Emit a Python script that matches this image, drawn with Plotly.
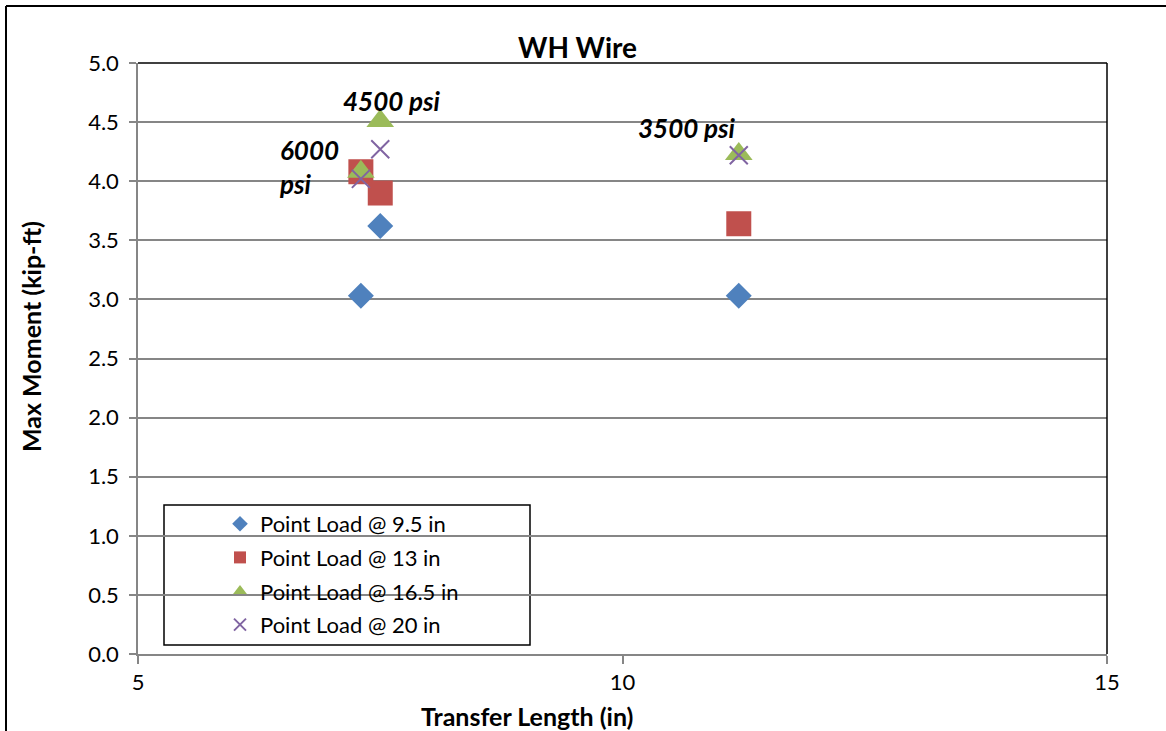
import plotly.graph_objects as go

# Transfer length (in) for the three concrete strengths
transfer_length = [7.3, 7.5, 11.2]

# Max moment (kip-ft) per point-load location
series_names = ["Point Load @ 9.5 in", "Point Load @ 13 in",
                "Point Load @ 16.5 in", "Point Load @ 20 in"]
moment_9_5 = [3.03, 3.62, 3.03]
moment_13 = [4.08, 3.90, 3.64]
moment_16_5 = [4.08, 4.51, 4.23]
moment_20 = [4.02, 4.27, 4.22]

strength_labels = ["6000<br>psi", "4500 psi", "3500 psi"]

y_ticks = [0.0, 0.5, 1.0, 1.5, 2.0, 2.5, 3.0, 3.5, 4.0, 4.5, 5.0]
x_ticks = [5, 10, 15]

FONT = "Lato, 'Open Sans', sans-serif"
GRID = "#868686"

# plot-area geometry in pixels (used to place paper-referenced items)
L, R, T, B = 138, 59, 63, 77
W, H = 1166, 731
PW, PH = W - L - R, H - T - B


def xp(px):
    return (px - L) / PW


def yp(py):
    return (H - B - py) / PH


fig = go.Figure()

styles = [
    dict(symbol="diamond", size=20, color="#4F81BD"),
    dict(symbol="square", size=25, color="#C0504D"),
    dict(symbol="triangle-up", size=24, color="#9BBB59"),
]
for name, ys, st in zip(series_names[:3], [moment_9_5, moment_13, moment_16_5], styles):
    fig.add_trace(go.Scatter(
        x=transfer_length, y=ys, mode="markers", name=name, legendgroup=name,
        marker=dict(symbol=st["symbol"], size=st["size"], color=st["color"],
                    line=dict(width=0)),
    ))

fig.add_trace(go.Scatter(
    x=transfer_length, y=moment_20, mode="markers", name=series_names[3],
    legendgroup=series_names[3],
    marker=dict(symbol="x-thin", size=18, color="#8064A2",
                line=dict(width=2, color="#8064A2")),
))

# concrete strength labels
label_pos = [(277, 167, "left"), (392, 101, "center"), (687, 128, "center")]
for text, (px, py, anchor) in zip(strength_labels, label_pos):
    fig.add_annotation(
        x=xp(px), y=yp(py), xref="paper", yref="paper", text=f"<b><i>{text}</i></b>",
        showarrow=False, xanchor=anchor, yanchor="middle", align="left",
        font=dict(family=FONT, size=26, color="black"),
    )

# title and axis titles
fig.add_annotation(x=xp(577), y=yp(47), xref="paper", yref="paper",
                   text="<b>WH Wire</b>", showarrow=False, xanchor="center", yanchor="middle",
                   font=dict(family=FONT, size=28, color="black"))
fig.add_annotation(x=xp(527), y=yp(716), xref="paper", yref="paper",
                   text="<b>Transfer Length (in)</b>", showarrow=False,
                   xanchor="center", yanchor="middle",
                   font=dict(family=FONT, size=25, color="black"))
fig.add_annotation(x=xp(31), y=yp(337), xref="paper", yref="paper",
                   text="<b>Max Moment (kip-ft)</b>", showarrow=False, textangle=-90,
                   xanchor="center", yanchor="middle",
                   font=dict(family=FONT, size=25, color="black"))

shapes = [
    # outer chart frame
    dict(type="line", xref="paper", yref="paper", x0=xp(6), x1=xp(1175), y0=yp(6), y1=yp(6),
         line=dict(color="black", width=2)),
    dict(type="line", xref="paper", yref="paper", x0=xp(6), x1=xp(6), y0=yp(6), y1=yp(740),
         line=dict(color="black", width=2)),
    # plot area top and right edges
    dict(type="line", xref="paper", yref="paper", x0=0, x1=1, y0=1, y1=1,
         line=dict(color="black", width=1.5)),
    dict(type="line", xref="paper", yref="paper", x0=1, x1=1, y0=0, y1=1,
         line=dict(color="black", width=1.5)),
    # legend box
    dict(type="rect", xref="paper", yref="paper", x0=xp(164), x1=xp(530), y0=yp(645), y1=yp(505),
         line=dict(color="black", width=1.5), fillcolor="white", layer="below"),
]

fig.update_layout(
    width=W, height=H,
    margin=dict(l=L, r=R, t=T, b=B),
    paper_bgcolor="white", plot_bgcolor="white",
    font=dict(family=FONT, size=22, color="black"),
    shapes=shapes,
    showlegend=True,
    legend=dict(x=xp(220), y=yp(503), xanchor="left", yanchor="top",
                bgcolor="rgba(0,0,0,0)", borderwidth=0, tracegroupgap=2,
                font=dict(family=FONT, size=22, color="black"),
                itemsizing="constant"),
    xaxis=dict(range=[5, 15], tickvals=x_ticks, ticktext=[str(v) for v in x_ticks],
               showgrid=False, zeroline=False, showline=True, linecolor=GRID, linewidth=1.5,
               ticks="outside", ticklen=8, tickcolor=GRID, tickwidth=1.5,
               tickfont=dict(family=FONT, size=22)),
    yaxis=dict(range=[0, 5], tickvals=y_ticks, ticktext=[f"{v:.1f}" for v in y_ticks],
               showgrid=True, gridcolor=GRID, gridwidth=1.5, zeroline=False,
               showline=True, linecolor=GRID, linewidth=1.5,
               ticks="outside", ticklen=7, tickcolor=GRID, tickwidth=1.5,
               ticklabelstandoff=6,
               tickfont=dict(family=FONT, size=22)),
)

fig.write_html("out.html")
